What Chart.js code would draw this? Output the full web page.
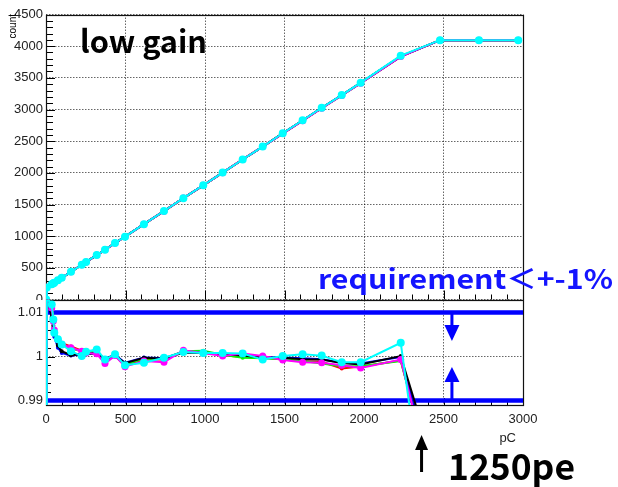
<!DOCTYPE html>
<html>
<head>
<meta charset="utf-8">
<script src="https://cdn.jsdelivr.net/npm/chart.js@4.4.0/dist/chart.umd.min.js"></script>
<style>
  html, body { margin: 0; padding: 0; background: #fff; }
  #wrap { position: relative; width: 618px; height: 487px; }
  #wrap canvas { position: absolute; left: 0; top: 0; }
</style>
</head>
<body>
<div id="wrap">
  <canvas id="topChart" width="618" height="487"></canvas>
  <canvas id="ratioChart" width="618" height="487"></canvas>
</div>
<script>
// charge (pC) of each measured point
const pC = [1, 5, 36, 46, 52, 75, 99, 157, 225, 252, 319, 371, 434, 497, 616, 742, 864, 989,
  1111, 1237, 1363, 1489, 1614, 1734, 1860, 1979, 2231, 2478, 2723, 2970];

// ADC counts (upper pad)
const countCyan    = [0, 190, 240, 256, 265, 303, 342, 437, 548, 594, 703, 786, 892, 992, 1189, 1397, 1600, 1804,
  2004, 2211, 2415, 2625, 2830, 3028, 3227, 3424, 3850, 4095, 4095, 4095];
const countMagenta = [0, 192, 240, 256, 266, 303, 342, 438, 549, 594, 701, 784, 891, 991, 1189, 1394, 1601, 1803,
  2002, 2212, 2415, 2620, 2823, 3020, 3223, 3416, 3836, 4095, 4095, 4095];
const countBlack   = [0, 191, 239, 255, 264, 302, 340, 436, 549, 594, 702, 786, 891, 993, 1191, 1396, 1600, 1803,
  2003, 2210, 2414, 2622, 2826, 3024, 3225, 3419, 3839, 4095, 4095, 4095];
const countBlue    = [0, 191, 239, 255, 264, 302, 340, 436, 549, 594, 702, 786, 892, 993, 1191, 1397, 1601, 1804,
  2004, 2211, 2415, 2623, 2827, 3025, 3226, 3420, 3838, 4095, 4095, 4095];

// ratio to linear fit (lower pad)
const ratioCyan    = [0, 1.0134, 1.0118, 1.0084, 1.0054, 1.0039, 1.0027, 1.0012, 1.0001, 1.0011, 1.0016, 0.9993, 1.0005, 0.9980,
  0.9986, 0.9997, 1.0010, 1.0008, 1.0008, 1.0007, 0.9993, 1.0001, 1.0005, 1.0002, 0.9987, 0.9987, 1.0031, 0.939, 0.89, 0.85];
const ratioMagenta = [0, 1.0140, 1.0110, 1.0080, 1.0060, 1.0038, 1.0028, 1.0020, 1.0012, 1.0008, 1.0006, 0.9984, 1.0002, 0.9977,
  0.9990, 0.9987, 1.0014, 1.0008, 1.0001, 1.0007, 1.0001, 0.9992, 0.9987, 0.9986, 0.9980, 0.9974, 0.9993, 0.964, 0.90, 0.86];
const ratioBlack   = [0, 1.0130, 1.0090, 1.0070, 1.0050, 1.0025, 1.0012, 1.0003, 1.0006, 1.0005, 1.0008, 0.9995, 1.0002, 0.9985,
  0.9997, 0.9995, 1.0009, 1.0008, 1.0005, 1.0002, 0.9998, 0.9997, 0.9994, 0.9993, 0.9985, 0.9982, 1.0001, 0.971, 0.91, 0.87];
const ratioBlue    = [0, 1.0130, 1.0090, 1.0065, 1.0045, 1.0020, 1.0008, 1.0002, 1.0005, 1.0005, 1.0008, 0.9995, 1.0004, 0.9986,
  0.9998, 0.9996, 1.0010, 1.0009, 1.0006, 1.0003, 0.9999, 0.9998, 0.9996, 0.9994, 0.9986, 0.9984, 0.9999, 0.968, 0.905, 0.865];
const ratioRed     = [0, 1.0140, 1.0110, 1.0085, 1.0062, 1.0040, 1.0030, 1.0023, 1.0013, 1.0010, 1.0008, 0.9990, 1.0001, 0.9980,
  0.9993, 0.9993, 1.0012, 1.0010, 1.0003, 0.9999, 0.9997, 0.9993, 0.9989, 0.9988, 0.9973, 0.9977, 0.9991, 0.966, 0.90, 0.86];
const ratioGreen   = [0, 1.0130, 1.0116, 1.0085, 1.0058, 1.0038, 1.0028, 1.0018, 1.0012, 1.0010, 1.0009, 0.9992, 1.0003, 0.9982,
  0.9995, 0.9995, 1.0012, 1.0013, 1.0004, 0.9997, 0.9996, 0.9994, 0.9990, 0.9984, 0.9978, 0.9978, 0.9990, 0.966, 0.90, 0.86];

// requirement band and markers
const requirement = [0.99, 1.01];
const requirementX = [0, 3000];
const arrowDown = [1.01, 1.0035];
const arrowUp = [0.99, 0.9976];
const arrowPc = 2553;
const peMarkPc = 2362;

Chart.defaults.font.family = "'Liberation Sans', Arial, sans-serif";
Chart.defaults.color = '#222';
Chart.defaults.animation = false;

const GRID = 'rgba(0,0,0,0.6)';
const DOTS = [1.5, 1.5];

function toXY(ys) {
  return pC.map((x, i) => ({ x, y: ys[i] }));
}

function series(label, color, ys, radius) {
  return {
    label, data: toXY(ys),
    borderColor: color, backgroundColor: color,
    pointBackgroundColor: color, pointBorderColor: color, pointBorderWidth: 0,
    pointRadius: radius, borderWidth: 2, tension: 0
  };
}

// ROOT-like frame with inward ticks
function frameTicks(cfg) {
  return {
    id: 'frameTicks',
    beforeDatasetsDraw(chart) {
      const { ctx, chartArea: a, scales: { x, y } } = chart;
      ctx.save();
      ctx.strokeStyle = '#000';
      ctx.lineWidth = 1;
      ctx.beginPath();
      for (let v = 0; v <= 3000; v += 100) {
        const px = Math.round(x.getPixelForValue(v)) + 0.5;
        const len = v % 500 === 0 ? cfg.xMajor : cfg.xMinor;
        ctx.moveTo(px, a.bottom);
        ctx.lineTo(px, a.bottom - len);
      }
      cfg.yTicks.forEach(([v, major]) => {
        const py = Math.round(y.getPixelForValue(v)) + 0.5;
        ctx.moveTo(a.left, py);
        ctx.lineTo(a.left + (major ? cfg.yMajor : cfg.yMinor), py);
      });
      ctx.stroke();
      ctx.lineWidth = 1.2;
      ctx.strokeStyle = '#111';
      ctx.strokeRect(Math.round(a.left) + 0.5, Math.round(a.top) + 0.5,
        Math.round(a.right - a.left), Math.round(a.bottom - a.top));
      ctx.restore();
    }
  };
}

function fixWidth(w) { return s => { s.width = w; }; }
function fixHeight(h) { return s => { s.height = h; }; }

// fit a bold label to the width it takes in the picture
function fitText(ctx, text, x, y, width, size, family) {
  ctx.font = 'bold ' + size + 'px ' + family;
  const w = ctx.measureText(text).width;
  ctx.save();
  ctx.translate(x, y);
  ctx.scale(width / w, 1);
  ctx.fillText(text, 0, 0);
  ctx.restore();
}

const CJK = '"Noto Sans CJK JP", "Noto Sans", sans-serif';

// ---------- upper pad ----------
const topYTicks = [];
for (let v = 0; v <= 4500; v += 100) topYTicks.push([v, v % 500 === 0]);

new Chart(document.getElementById('topChart'), {
  type: 'line',
  data: {
    datasets: [
      series('cyan', '#00ffff', countCyan, 4),
      series('magenta', '#ff00ff', countMagenta, 3.5),
      series('black', '#000000', countBlack, 2),
      series('blue', '#0000ff', countBlue, 2),
      series('green', '#00ff00', countBlack, 2),
      series('red', '#ff0000', countMagenta, 2)
    ]
  },
  options: {
    responsive: false,
    layout: { padding: { left: 0, top: 14.5, right: 95, bottom: 187.5 } },
    plugins: { legend: { display: false }, tooltip: { enabled: false } },
    scales: {
      x: {
        type: 'linear', min: 0, max: 3000,
        ticks: { display: false, stepSize: 500 },
        grid: { color: GRID, drawTicks: false, lineWidth: 1 },
        border: { display: false, dash: DOTS },
        afterFit: fixHeight(0)
      },
      y: {
        type: 'linear', min: 0, max: 4500,
        ticks: { stepSize: 500, padding: 3, font: { size: 13 }, color: '#222', callback: v => String(v) },
        grid: { color: GRID, drawTicks: false, lineWidth: 1 },
        border: { display: false, dash: DOTS },
        afterFit: fixWidth(46)
      }
    }
  },
  plugins: [
    frameTicks({ xMajor: 9, xMinor: 5, yMajor: 9, yMinor: 7, yTicks: topYTicks }),
    {
      id: 'topText',
      afterDraw(chart) {
        const { ctx } = chart;
        ctx.save();
        ctx.fillStyle = '#000';
        fitText(ctx, 'low gain', 80, 53, 127, 31, CJK);
        ctx.translate(16, 14);
        ctx.rotate(-Math.PI / 2);
        ctx.font = '10px "Liberation Sans", Arial, sans-serif';
        ctx.textAlign = 'right';
        ctx.fillText('count', 0, 0);
        ctx.restore();
      }
    }
  ]
});

// ---------- lower pad ----------
const ratioYTicks = [];
for (let k = -5; k <= 6; k++) ratioYTicks.push([1 + k * 0.002, k % 5 === 0]);

function drawArrow(ctx, x, yFrom, yTo, shaft, headW, headL) {
  const dir = yTo > yFrom ? 1 : -1;
  const base = yTo - dir * headL;
  ctx.fillRect(x - shaft / 2, Math.min(yFrom, base), shaft, Math.abs(base - yFrom));
  ctx.beginPath();
  ctx.moveTo(x - headW / 2, base);
  ctx.lineTo(x + headW / 2, base);
  ctx.lineTo(x, yTo);
  ctx.closePath();
  ctx.fill();
}

new Chart(document.getElementById('ratioChart'), {
  type: 'line',
  data: {
    datasets: [
      series('cyan', '#00ffff', ratioCyan, 4),
      series('magenta', '#ff00ff', ratioMagenta, 3.5),
      series('black', '#000000', ratioBlack, 2),
      series('blue', '#0000ff', ratioBlue, 2),
      series('green', '#00ff00', ratioGreen, 2),
      series('red', '#ff0000', ratioRed, 2),
      {
        label: 'upper', data: requirementX.map(x => ({ x, y: requirement[1] })),
        borderColor: '#0000ff', borderWidth: 4.5, pointRadius: 0
      },
      {
        label: 'lower', data: requirementX.map(x => ({ x, y: requirement[0] })),
        borderColor: '#0000ff', borderWidth: 4.5, pointRadius: 0
      }
    ]
  },
  options: {
    responsive: false,
    layout: { padding: { left: 0, top: 300, right: 95, bottom: 62 } },
    plugins: { legend: { display: false }, tooltip: { enabled: false } },
    scales: {
      x: {
        type: 'linear', min: 0, max: 3000,
        ticks: { stepSize: 500, padding: 7, maxRotation: 0, autoSkip: false, font: { size: 13 }, color: '#222', callback: v => String(v) },
        grid: { color: GRID, drawTicks: false, lineWidth: 1 },
        border: { display: false, dash: DOTS },
        afterFit: fixHeight(20)
      },
      y: {
        type: 'linear', min: 0.98898, max: 1.01284,
        afterBuildTicks: s => { s.ticks = [0.99, 1, 1.01].map(value => ({ value })); },
        ticks: {
          padding: 3, font: { size: 13 }, color: '#222',
          callback: v => (Math.abs(v - 1) < 1e-9 ? '1' : v.toFixed(2))
        },
        grid: { color: GRID, drawTicks: false, lineWidth: 1 },
        border: { display: false, dash: DOTS },
        afterFit: fixWidth(46)
      }
    }
  },
  plugins: [
    {
      id: 'cover',
      beforeDraw(chart) {
        const { ctx } = chart;
        ctx.save();
        ctx.fillStyle = '#fff';
        ctx.fillRect(0, 300, chart.width, chart.height - 300);
        ctx.restore();
      }
    },
    frameTicks({ xMajor: 7, xMinor: 4, yMajor: 9, yMinor: 5, yTicks: ratioYTicks }),
    {
      id: 'annotations',
      afterDraw(chart) {
        const { ctx, scales: { x, y } } = chart;
        ctx.save();
        // requirement arrows
        ctx.fillStyle = '#0000ff';
        const ax = x.getPixelForValue(arrowPc);
        drawArrow(ctx, ax, y.getPixelForValue(arrowDown[0]), y.getPixelForValue(arrowDown[1]), 3, 15, 16);
        drawArrow(ctx, ax, y.getPixelForValue(arrowUp[0]), y.getPixelForValue(arrowUp[1]), 3, 15, 15);
        // 1250pe marker
        ctx.fillStyle = '#000';
        drawArrow(ctx, x.getPixelForValue(peMarkPc), 472, 435, 3, 13, 15);
        fitText(ctx, '1250pe', 448, 480, 127, 36, CJK);
        ctx.fillStyle = '#1414ff';
        fitText(ctx, 'requirement＜+-1%', 318, 289, 295, 27, CJK);
        ctx.fillStyle = '#222';
        ctx.font = '13px "Liberation Sans", Arial, sans-serif';
        ctx.textAlign = 'right';
        ctx.fillText('pC', 516, 442);
        ctx.restore();
      }
    }
  ]
});
</script>
</body>
</html>
